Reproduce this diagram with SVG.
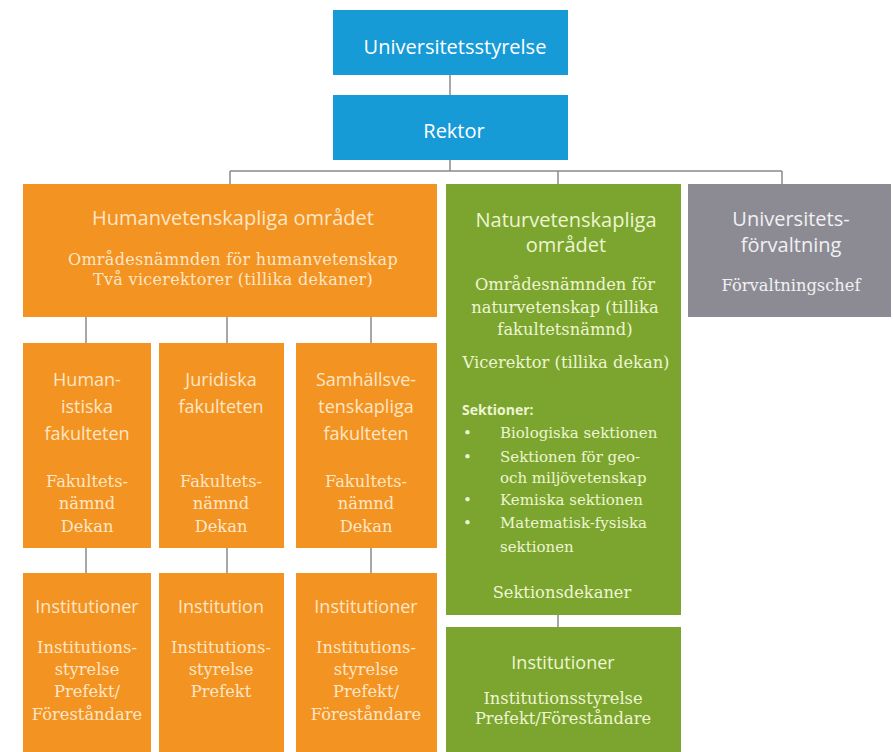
<svg xmlns="http://www.w3.org/2000/svg" width="893" height="752" viewBox="0 0 893 752">
<style>
.blue{fill:#169bd7}
.orange{fill:#f39322}
.green{fill:#7ba52e}
.grey{fill:#8c8b94}
.conn{stroke:#8a8a8a;stroke-width:1.5;fill:none}
.h{font-family:"Open Sans","Liberation Sans",sans-serif;font-size:18px;text-anchor:middle}
.big{font-size:20px}
.s{font-family:"DejaVu Serif","Liberation Serif",serif;font-size:16.3px;text-anchor:middle}
.li{font-family:"DejaVu Serif","Liberation Serif",serif;font-size:15px;text-anchor:start}
.wb{fill:#ffffff}
.wo{fill:#fde6c6}
.wg{fill:#eef5d2}
.wy{fill:#f1f1f3}
</style>
<rect width="893" height="752" fill="#ffffff"/>
<g id="connectors" class="conn">
<path d="M450 75V95"/>
<path d="M450 160V171"/>
<path d="M230 171H782"/>
<path d="M230 171V184M558 171V184M782 171V184"/>
<path d="M86 317V343M227 317V343M371 317V343"/>
<path d="M86 548V573M227 548V573M371 548V573"/>
<path d="M558 615V627"/>
</g>
<g id="universitetsstyrelse">
<rect class="blue" x="333" y="10" width="235" height="65"/>
<text class="h big wb" x="455" y="54">Universitetsstyrelse</text>
</g>
<g id="rektor">
<rect class="blue" x="333" y="95" width="235" height="65"/>
<text class="h big wb" x="454" y="138">Rektor</text>
</g>
<g id="humanvetenskapliga">
<rect class="orange" x="23" y="184" width="414" height="133"/>
<text class="h big wo" x="233" y="225">Humanvetenskapliga området</text>
<text class="s wo" x="233" y="265" style="font-size:16px;letter-spacing:0.3px">Områdesnämnden för humanvetenskap</text>
<text class="s wo" x="233" y="285" style="font-size:16px;letter-spacing:0.3px">Två vicerektorer (tillika dekaner)</text>
</g>
<g id="naturvetenskapliga">
<rect class="green" x="446" y="184" width="235" height="431"/>
<text class="h big wg" x="566" y="227">Naturvetenskapliga</text>
<text class="h big wg" x="566" y="252">området</text>
<text class="s wg" x="565" y="290">Områdesnämnden för</text>
<text class="s wg" x="565" y="313">naturvetenskap (tillika</text>
<text class="s wg" x="565" y="335">fakultetsnämnd)</text>
<text class="s wg" x="566" y="368">Vicerektor (tillika dekan)</text>
<text class="wg" x="462" y="415" style="font-weight:bold;font-family:'Open Sans',sans-serif;font-size:14px">Sektioner:</text>
<g class="li wg">
<text x="463" y="438">•</text><text x="500" y="438">Biologiska sektionen</text>
<text x="463" y="462">•</text><text x="500" y="462">Sektionen för geo-</text>
<text x="500" y="483">och miljövetenskap</text>
<text x="463" y="505">•</text><text x="500" y="505">Kemiska sektionen</text>
<text x="463" y="528">•</text><text x="500" y="528">Matematisk-fysiska</text>
<text x="500" y="552">sektionen</text>
</g>
<text class="s wg" x="562" y="598">Sektionsdekaner</text>
</g>
<g id="forvaltning">
<rect class="grey" x="688" y="184" width="203" height="133"/>
<text class="h big wy" x="791" y="226">Universitets-</text>
<text class="h big wy" x="791" y="252">förvaltning</text>
<text class="s wy" x="791" y="291">Förvaltningschef</text>
</g>
<g id="humanistiska">
<rect class="orange" x="23" y="343" width="128" height="205"/>
<text class="h wo" x="87" y="386">Human-</text>
<text class="h wo" x="87" y="413">istiska</text>
<text class="h wo" x="87" y="440">fakulteten</text>
<text class="s wo" x="87" y="487">Fakultets-</text>
<text class="s wo" x="87" y="509">nämnd</text>
<text class="s wo" x="87" y="532">Dekan</text>
</g>
<g id="juridiska">
<rect class="orange" x="159" y="343" width="125" height="205"/>
<text class="h wo" x="221" y="386">Juridiska</text>
<text class="h wo" x="221" y="413">fakulteten</text>
<text class="s wo" x="221" y="487">Fakultets-</text>
<text class="s wo" x="221" y="509">nämnd</text>
<text class="s wo" x="221" y="532">Dekan</text>
</g>
<g id="samhallsvetenskapliga">
<rect class="orange" x="296" y="343" width="141" height="205"/>
<text class="h wo" x="366" y="386">Samhällsve-</text>
<text class="h wo" x="366" y="413">tenskapliga</text>
<text class="h wo" x="366" y="440">fakulteten</text>
<text class="s wo" x="366" y="487">Fakultets-</text>
<text class="s wo" x="366" y="509">nämnd</text>
<text class="s wo" x="366" y="532">Dekan</text>
</g>
<g id="inst-hum">
<rect class="orange" x="23" y="573" width="128" height="179"/>
<text class="h wo" x="87" y="613">Institutioner</text>
<text class="s wo" x="87" y="653">Institutions-</text>
<text class="s wo" x="87" y="675">styrelse</text>
<text class="s wo" x="87" y="697">Prefekt/</text>
<text class="s wo" x="87" y="720">Föreståndare</text>
</g>
<g id="inst-jur">
<rect class="orange" x="159" y="573" width="125" height="179"/>
<text class="h wo" x="221" y="613">Institution</text>
<text class="s wo" x="221" y="653">Institutions-</text>
<text class="s wo" x="221" y="675">styrelse</text>
<text class="s wo" x="221" y="697">Prefekt</text>
</g>
<g id="inst-sam">
<rect class="orange" x="296" y="573" width="141" height="179"/>
<text class="h wo" x="366" y="613">Institutioner</text>
<text class="s wo" x="366" y="653">Institutions-</text>
<text class="s wo" x="366" y="675">styrelse</text>
<text class="s wo" x="366" y="697">Prefekt/</text>
<text class="s wo" x="366" y="720">Föreståndare</text>
</g>
<g id="inst-nat">
<rect class="green" x="446" y="627" width="235" height="125"/>
<text class="h wg" x="563" y="669">Institutioner</text>
<text class="s wg" x="563" y="704">Institutionsstyrelse</text>
<text class="s wg" x="563" y="724">Prefekt/Föreståndare</text>
</g>
</svg>
